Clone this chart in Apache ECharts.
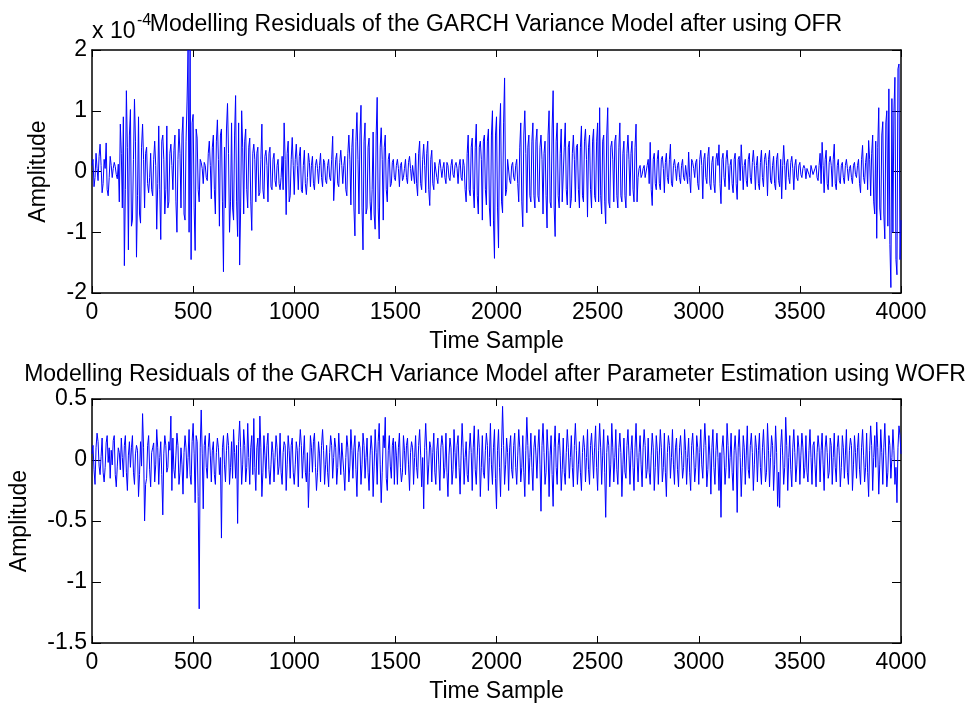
<!DOCTYPE html>
<html>
<head>
<meta charset="utf-8">
<title>GARCH Variance Model Residuals</title>
<script src="https://cdn.jsdelivr.net/npm/echarts@6/dist/echarts.min.js"></script>
<style>
  html, body { margin: 0; padding: 0; background: #fff; }
  #chart { width: 970px; height: 706px; }
</style>
</head>
<body>
<div id="chart"></div>
<script>
// Residuals are stored every SAMPLE_STEP time samples (20 values per 100 samples).
const SAMPLE_STEP = 5;

// Residuals after OFR, in units of 1e-4 (the axis carries the x 10^-4 multiplier).
const ofrResidualE4 = [
  0.1, 0.2, -0.25, -0.1, 0.3, 0.05, -0.15, 0.25, 0.45, 0.1, -0.35, -0.2, 0.2, 0.05, 0.47, -0.3, -0.4, -0.1, 0.25, 0.1,
  -0.1, 0.05, 0.15, 0.08, -0.05, -0.12, 0.12, -0.5, 0.78, 0.3, -0.6, 0.9, -1.55, -0.3, 1.33, 0.4, -1.29, 0.6, 1.02, -0.9,
  -0.8, 0.2, 1.19, 0.5, -1.41, -0.4, 0.9, -0.7, -0.85, 0.4, 0.78, 0.2, -0.6, 0.3, 0.4, -0.2, -0.35, -0.1, 0.3, -0.3,
  -0.4, 0.2, 0.5, 0.1, -0.95, -0.2, 0.75, -0.3, -1.12, 0.5, 0.6, 0.2, -0.7, -0.3, 0.75, -0.6, -0.5, 0.3, 0.45, 0.1,
  -0.3, 0.35, 0.6, -0.5, -1.0, 0.2, 0.7, 0.3, -0.6, 0.6, 0.9, -0.7, -0.8, 0.5, 1.16, 2.0, -1.0, 2.0, -1.45, 0.8,
  0.94, -0.6, -1.3, 0.7, 0.55, -0.3, -0.5, 0.2, 0.15, 0.05, -0.2, 0.15, 0.1, -0.1, -0.15, 0.3, 0.5, 0.1, -0.45, 0.4,
  0.6, -0.3, -0.7, 0.5, 0.85, 0.2, -0.9, 0.6, 0.7, -0.5, -1.65, 0.4, -0.6, 0.7, 1.12, 0.3, -1.0, -0.5, 0.8, -0.6,
  -0.8, 0.6, 1.25, -0.5, -1.07, 0.8, -1.54, -0.6, 1.0, 0.4, -0.7, 0.5, 0.7, -0.3, -0.6, 0.4, 0.55, -0.5, -0.97, 0.3,
  0.45, 0.2, -0.5, 0.3, 0.4, -0.4, -0.35, 0.2, 0.78, -0.3, -0.45, 0.25, 0.35, 0.1, -0.5, 0.3, 0.4, -0.25, -0.3, 0.2,
  0.3, -0.15, -0.25, 0.1, 0.2, -0.2, -0.3, -0.1, 0.25, -0.3, 0.8, 0.2, -0.71, 0.3, 0.5, -0.5, -0.4, 0.2, 0.56, 0.1,
  -0.38, 0.2, 0.45, 0.1, -0.3, 0.25, 0.4, -0.3, -0.35, 0.1, 0.35, -0.2, -0.38, -0.1, 0.3, 0.15, -0.25, 0.1, 0.25, -0.2,
  -0.3, 0.1, 0.2, 0.05, -0.2, 0.1, 0.3, -0.1, -0.25, 0.2, 0.15, -0.15, -0.2, 0.1, 0.2, -0.1, -0.15, 0.2, 0.58, -0.48,
  -0.5, 0.2, 0.3, -0.2, -0.25, 0.15, 0.35, 0.1, -0.2, 0.1, 0.25, -0.3, -0.4, 0.3, 0.6, 0.2, -0.55, 0.4, 0.7, -0.6,
  -1.06, 0.5, 0.97, 0.2, -0.7, 0.6, 1.09, -0.6, -1.29, 0.5, 0.8, -0.7, -0.6, 0.4, 0.55, -0.5, -0.8, -0.3, 0.65, -0.7,
  -0.95, 0.6, 1.22, -0.6, -1.11, 0.4, 0.72, 0.2, -0.8, 0.4, 0.6, -0.3, -0.5, 0.2, 0.3, -0.25, -0.2, 0.15, 0.2, -0.1,
  -0.15, 0.1, 0.2, 0.05, -0.25, 0.1, 0.15, -0.15, -0.1, 0.05, 0.2, -0.1, -0.2, 0.15, 0.25, 0.05, -0.15, 0.1, 0.1, -0.2,
  0.3, -0.2, -0.4, 0.3, 0.5, -0.2, -0.3, 0.2, 0.45, 0.1, -0.35, 0.3, 0.5, -0.3, -0.56, 0.2, 0.35, -0.2, -0.3, 0.15,
  0.15, -0.1, -0.2, 0.1, 0.2, 0.05, -0.1, 0.05, 0.15, -0.1, -0.2, 0.15, 0.1, -0.1, -0.15, 0.1, 0.2, -0.05, -0.1, 0.1,
  0.15, 0.05, -0.2, 0.1, 0.2, -0.1, -0.15, 0.2, 0.1, -0.3, -0.5, 0.3, 0.6, -0.3, -0.4, 0.4, 0.55, -0.3, -0.6, 0.4,
  0.78, -0.4, -0.7, 0.4, 0.5, 0.2, -0.8, 0.5, 0.6, -0.3, -0.55, 0.5, 0.7, -0.6, -0.9, 0.6, 1.0, -0.8, -1.43, 0.6,
  0.9, -0.6, -1.26, 0.7, 1.12, -0.5, -0.68, 0.8, 1.54, -0.4, -0.3, 0.2, 0.2, -0.15, -0.2, 0.1, 0.15, -0.1, -0.15, 0.1,
  0.2, -0.2, -0.5, 0.4, 0.8, -0.5, -0.91, 0.6, 1.0, 0.3, -0.68, 0.4, 0.6, -0.4, -0.5, 0.5, 0.8, -0.4, -0.6, 0.5,
  0.7, -0.4, -0.5, 0.4, 0.6, 0.2, -0.7, 0.3, 0.5, -0.4, -0.93, 0.6, 1.0, -0.5, -0.6, 0.7, 1.33, -0.6, -1.07, 0.5,
  0.8, -0.4, -0.6, 0.3, 0.7, -0.5, -0.5, 0.4, 0.8, -0.3, -0.55, 0.4, 0.5, -0.6, -0.45, 0.3, 0.6, 0.2, -0.5, 0.4,
  0.45, -0.3, -0.6, 0.4, 0.75, -0.4, -0.5, 0.5, 0.7, 0.2, -0.75, 0.4, 0.6, -0.3, -0.6, 0.5, 0.7, -0.4, -0.5, 0.5,
  0.8, -0.5, 1.05, -0.4, -0.7, 0.5, 0.6, -0.5, -0.86, 0.6, 1.05, -0.5, -0.6, 0.4, 0.5, 0.2, -0.5, 0.5, 0.6, -0.4,
  -0.6, 0.4, 0.8, -0.4, -0.5, 0.3, 0.5, -0.4, -0.6, 0.3, 0.6, 0.2, -0.4, 0.3, 0.5, -0.3, -0.5, 0.4, 0.78, -0.5,
  -0.1, 0.05, 0.1, -0.1, -0.05, 0.05, 0.1, -0.1, -0.1, 0.1, 0.2, -0.2, 0.48, -0.3, -0.56, 0.2, 0.3, -0.2, -0.3, 0.2,
  0.35, -0.2, -0.3, 0.2, 0.25, 0.05, -0.35, 0.15, 0.3, -0.1, -0.2, 0.2, 0.45, -0.2, -0.25, 0.1, 0.2, 0.05, -0.15, 0.1,
  0.15, -0.1, -0.2, 0.1, 0.2, -0.1, -0.15, 0.1, 0.1, -0.2, 0.32, -0.1, -0.35, 0.2, 0.15, 0.05, -0.1, 0.15, 0.2, -0.2,
  -0.3, 0.2, 0.35, 0.1, -0.45, 0.2, 0.3, -0.1, -0.2, 0.25, 0.4, -0.2, -0.3, 0.15, 0.25, -0.2, -0.35, 0.2, 0.3, 0.1,
  0.44, -0.2, -0.53, 0.2, 0.3, -0.1, -0.25, 0.2, 0.35, 0.1, -0.3, 0.1, 0.2, -0.2, -0.35, 0.2, 0.3, -0.2, -0.46, 0.2,
  0.25, -0.15, 0.44, 0.1, -0.3, 0.1, 0.2, -0.15, -0.25, 0.2, 0.3, -0.1, -0.2, 0.15, 0.35, 0.1, -0.3, 0.1, 0.25, -0.2,
  -0.3, 0.15, 0.35, -0.1, -0.25, 0.2, 0.3, 0.1, -0.4, 0.2, 0.35, -0.15, -0.2, 0.1, 0.25, -0.2, -0.3, 0.2, 0.3, -0.15,
  -0.25, 0.2, -0.45, 0.1, 0.43, 0.1, -0.3, 0.15, 0.2, -0.1, -0.2, 0.15, 0.25, 0.05, -0.3, 0.1, 0.2, -0.1, -0.15, 0.1,
  0.15, -0.05, -0.1, 0.05, 0.1, 0.05, -0.12, 0.05, 0.08, -0.05, -0.1, 0.1, 0.12, -0.05, -0.08, 0.05, 0.1, -0.1, -0.15, 0.1,
  0.3, -0.2, 0.48, 0.1, -0.35, 0.2, 0.35, -0.2, -0.3, 0.15, 0.25, 0.1, -0.25, 0.2, 0.45, -0.2, -0.3, 0.1, 0.2, -0.15,
  -0.2, 0.1, 0.15, -0.1, -0.2, 0.1, 0.2, 0.05, -0.15, 0.05, 0.1, -0.1, -0.2, 0.1, 0.15, -0.05, -0.1, 0.1, 0.2, -0.2,
  -0.35, 0.2, 0.43, -0.1, -0.2, 0.15, 0.3, -0.3, 0.51, 0.2, -0.4, 0.3, 0.6, -0.5, -0.7, 0.5, -1.1, 0.4, 1.05, -0.6,
  -0.8, 0.6, 0.82, -0.7, -1.11, 0.8, 1.0, -0.9, 1.36, -1.2, -1.91, 1.2, -1.0, 1.0, 1.55, -1.45, -1.7, 1.69, 1.77, -1.45,
  -0.8
];

// Residuals after parameter estimation with WOFR.
const wofrResidual = [
  0.05, 0.12, -0.08, -0.2, 0.1, 0.22, 0.15, -0.05, -0.12, 0.03, 0.18, -0.1, -0.18, -0.06, 0.14, 0.2, -0.02, 0.1, -0.15, 0.08,
  -0.04, 0.16, 0.2, -0.12, -0.22, -0.05, 0.1, 0.06, -0.08, 0.18, 0.02, -0.14, 0.12, 0.2, -0.1, -0.25, 0.04, 0.15, -0.06, 0.1,
  0.2, -0.1, -0.2, 0.05, 0.12, 0.08, -0.3, -0.12, 0.15, -0.05, 0.38, 0.1, -0.5, -0.2, -0.15, 0.12, 0.2, -0.08, -0.22, 0.06,
  0.1, 0.14, -0.18, -0.04, 0.25, 0.1, -0.2, 0.02, 0.15, -0.12, -0.45, 0.05, 0.2, 0.12, -0.1, -0.06, 0.15, 0.08, 0.36, -0.25,
  0.18, -0.08, -0.15, 0.04, 0.22, 0.12, -0.2, -0.1, 0.1, -0.04, -0.28, 0.06, 0.2, 0.1, -0.15, 0.02, 0.25, -0.12, -0.2, 0.15,
  0.3, 0.05, -0.35, 0.2, 0.15, -0.3, -1.22, 0.1, 0.41, 0.05, -0.4, 0.12, 0.2, -0.06, -0.15, 0.1, 0.22, 0.04, -0.18, 0.08,
  0.15, -0.12, -0.2, 0.06, 0.18, 0.1, -0.12, 0.02, -0.64, 0.1, 0.2, -0.04, -0.18, 0.08, 0.22, 0.12, -0.2, -0.06, 0.15, -0.15,
  0.25, 0.06, -0.15, 0.12, -0.52, 0.15, 0.32, 0.1, -0.2, -0.04, 0.25, 0.12, -0.18, -0.06, 0.3, 0.02, -0.2, 0.1, 0.2, -0.12,
  0.34, -0.06, -0.25, 0.1, 0.18, -0.12, 0.36, 0.1, -0.3, -0.1, 0.2, 0.04, -0.15, 0.12, 0.22, -0.08, -0.2, -0.04, 0.15, 0.06,
  -0.18, 0.02, 0.2, 0.1, -0.12, -0.05, 0.22, -0.1, -0.2, 0.06, 0.15, 0.12, -0.25, -0.04, 0.2, 0.08, -0.15, 0.12, 0.18, -0.1,
  -0.2, -0.04, 0.15, 0.08, -0.22, 0.1, 0.25, 0.12, -0.15, 0.04, 0.2, -0.1, -0.18, 0.06, -0.39, -0.1, 0.2, 0.1, -0.1, 0.15,
  0.22, -0.06, -0.25, -0.1, 0.15, 0.05, -0.18, 0.12, 0.25, 0.08, -0.2, -0.04, 0.12, -0.1, -0.22, 0.06, 0.2, 0.12, -0.15, 0.02,
  0.18, 0.1, -0.2, -0.06, 0.22, 0.04, -0.12, 0.14, 0.15, -0.1, -0.25, 0.02, 0.2, 0.1, -0.18, -0.05, 0.25, 0.08, -0.15, 0.1,
  0.2, -0.08, -0.3, 0.06, 0.15, 0.1, -0.2, -0.04, 0.22, 0.12, -0.15, 0.02, 0.18, -0.1, -0.25, 0.04, 0.2, 0.08, -0.3, -0.05,
  0.25, 0.06, -0.2, 0.15, 0.3, -0.04, -0.35, -0.1, 0.2, 0.1, 0.35, -0.15, -0.25, 0.08, 0.2, -0.05, -0.15, 0.12, 0.18, -0.2,
  0.15, 0.04, -0.2, 0.1, 0.22, -0.06, -0.18, -0.1, 0.2, 0.08, -0.12, 0.12, 0.18, -0.04, -0.25, 0.06, 0.15, 0.1, -0.2, 0.02,
  0.2, -0.06, -0.15, 0.12, 0.25, 0.04, -0.22, 0.02, -0.4, 0.1, 0.3, 0.08, -0.2, -0.04, 0.15, 0.1, -0.18, 0.06, 0.22, -0.1,
  -0.2, 0.08, 0.18, -0.04, -0.25, 0.1, 0.2, 0.12, -0.15, -0.06, 0.22, -0.1, -0.3, 0.04, 0.18, 0.1, -0.2, -0.08, 0.25, 0.06,
  -0.15, 0.12, 0.2, -0.06, -0.28, 0.04, 0.3, 0.1, -0.2, 0.02, 0.15, -0.12, -0.18, 0.08, 0.22, 0.06, -0.25, 0.1, 0.28, -0.08,
  -0.2, 0.04, 0.25, 0.1, -0.3, -0.06, 0.2, -0.1, -0.15, 0.08, 0.22, 0.12, -0.25, 0.02, 0.3, -0.04, -0.2, 0.1, 0.25, -0.15,
  -0.4, 0.08, 0.25, -0.06, -0.3, 0.1, 0.44, 0.12, -0.2, -0.04, 0.18, 0.06, -0.25, 0.1, 0.2, -0.08, -0.15, 0.12, 0.22, -0.06,
  -0.2, 0.04, 0.25, 0.1, -0.18, -0.06, 0.2, -0.1, -0.3, 0.08, 0.35, 0.12, -0.2, 0.02, 0.22, -0.06, -0.25, 0.1, 0.2, 0.04,
  -0.15, 0.1, 0.25, -0.04, -0.42, 0.12, 0.3, 0.06, -0.2, -0.1, 0.25, 0.08, -0.3, 0.04, 0.2, -0.12, -0.38, 0.1, 0.28, -0.06,
  -0.2, 0.12, 0.22, 0.04, -0.25, -0.08, 0.18, -0.1, -0.2, 0.06, 0.25, 0.1, -0.15, 0.02, 0.2, -0.06, -0.22, 0.12, 0.3, 0.08,
  -0.2, -0.04, 0.15, -0.1, -0.25, 0.06, 0.2, 0.1, -0.18, 0.02, 0.25, -0.08, -0.2, 0.12, 0.22, 0.04, -0.15, 0.1, 0.28, -0.06,
  -0.25, 0.08, 0.3, 0.1, -0.2, 0.04, 0.25, -0.1, -0.47, 0.06, 0.2, 0.12, -0.22, -0.04, 0.3, 0.1, -0.18, 0.02, 0.25, -0.08,
  -0.2, 0.1, 0.22, 0.06, -0.3, -0.04, 0.18, -0.1, -0.15, 0.12, 0.25, 0.04, -0.2, 0.08, 0.2, -0.06, -0.25, 0.1, 0.3, 0.02,
  -0.18, 0.06, 0.2, -0.04, -0.22, 0.1, 0.25, 0.12, -0.15, -0.08, 0.18, -0.1, -0.2, 0.04, 0.22, 0.1, -0.25, -0.06, 0.2, 0.08,
  -0.2, 0.04, 0.25, 0.1, -0.18, -0.06, 0.22, -0.1, -0.3, 0.06, 0.2, 0.12, -0.15, 0.02, 0.25, -0.04, -0.2, 0.1, 0.18, -0.08,
  -0.22, 0.1, 0.2, 0.04, -0.15, -0.06, 0.25, 0.08, -0.2, 0.02, 0.18, -0.1, -0.25, 0.12, 0.22, 0.04, -0.18, -0.06, 0.2, 0.1,
  -0.2, 0.06, 0.25, -0.04, -0.15, 0.1, 0.3, 0.12, -0.22, -0.08, 0.2, 0.04, -0.28, 0.1, 0.25, -0.06, -0.2, 0.08, 0.22, 0.02,
  -0.25, 0.06, -0.47, 0.1, 0.2, 0.04, -0.2, -0.06, 0.3, 0.12, -0.15, 0.02, 0.22, -0.1, -0.25, 0.08, 0.2, 0.04, -0.43, 0.1,
  0.25, 0.02, -0.3, -0.06, 0.2, 0.1, -0.2, 0.04, 0.28, -0.08, -0.15, 0.12, 0.22, 0.06, -0.25, -0.04, 0.2, 0.1, -0.18, 0.08,
  0.22, -0.06, -0.2, 0.1, 0.25, 0.04, -0.18, -0.1, 0.3, 0.08, -0.22, 0.02, 0.2, 0.12, -0.25, -0.04, 0.28, 0.06, -0.38, -0.1,
  -0.39, 0.1, 0.25, 0.04, -0.2, -0.06, 0.35, 0.12, -0.25, 0.02, 0.2, -0.08, -0.22, 0.1, 0.25, 0.06, -0.18, -0.04, 0.2, 0.1,
  -0.2, 0.04, 0.22, 0.1, -0.15, -0.06, 0.2, -0.1, -0.18, 0.08, 0.25, 0.02, -0.2, 0.12, 0.15, -0.04, -0.22, 0.06, 0.2, 0.1,
  -0.18, 0.08, 0.22, -0.04, -0.25, 0.1, 0.2, 0.06, -0.15, -0.1, 0.18, 0.12, -0.2, 0.02, 0.22, -0.06, -0.18, 0.1, 0.2, 0.04,
  -0.22, -0.06, 0.2, 0.1, -0.15, 0.04, 0.25, -0.1, -0.2, 0.08, 0.18, 0.12, -0.25, -0.04, 0.2, 0.06, -0.15, 0.1, 0.22, -0.08,
  -0.2, 0.1, 0.25, 0.04, -0.18, -0.06, 0.22, -0.1, -0.3, 0.08, 0.28, 0.12, -0.25, 0.02, 0.2, -0.06, 0.31, 0.1, -0.28, -0.04,
  0.25, 0.06, -0.2, 0.1, 0.3, 0.04, -0.22, -0.1, 0.2, 0.12, -0.15, 0.02, 0.25, 0.08, -0.2, -0.06, -0.35, 0.1, 0.28, 0.2,
  0.05
];

// Tick labels
const timeTicks = [0, 500, 1000, 1500, 2000, 2500, 3000, 3500, 4000];
const ofrTicks = [-2, -1, 0, 1, 2];
const wofrTicks = [-1.5, -1, -0.5, 0, 0.5];

const titles = [
  'Modelling Residuals of the GARCH Variance Model after using OFR',
  'Modelling Residuals of the GARCH Variance Model after Parameter Estimation using WOFR'
];

const FONT = '"Liberation Sans", Arial, Helvetica, sans-serif';
const FS = 23;
const BLACK = '#000';

const toPairs = arr => arr.map((v, i) => [i * SAMPLE_STEP, v]);
const plainNumber = v => String(v);

const grids = [
  { left: 92, top: 50, width: 809, height: 243 },
  { left: 92, top: 399, width: 809, height: 244 }
];

function xAxes(gridIndex, ticks) {
  const base = {
    gridIndex: gridIndex,
    type: 'value',
    min: ticks[0],
    max: ticks[ticks.length - 1],
    interval: ticks[1] - ticks[0],
    splitLine: { show: false },
    axisLine: { show: true, onZero: false, lineStyle: { color: BLACK, width: 1.5 } },
    axisTick: { show: true, inside: true, length: 7, lineStyle: { color: BLACK, width: 1 } }
  };
  return [
    Object.assign({}, base, {
      position: 'bottom',
      axisLabel: { show: true, color: BLACK, fontFamily: FONT, fontSize: FS, margin: 8, formatter: plainNumber },
      name: 'Time Sample',
      nameLocation: 'middle',
      nameGap: 37,
      nameTextStyle: { color: BLACK, fontFamily: FONT, fontSize: FS }
    }),
    Object.assign({}, base, {
      position: 'top',
      axisLabel: { show: false }
    })
  ];
}

function yAxes(gridIndex, ticks, nameGap) {
  const base = {
    gridIndex: gridIndex,
    type: 'value',
    min: ticks[0],
    max: ticks[ticks.length - 1],
    interval: ticks[1] - ticks[0],
    splitLine: { show: false },
    axisLine: { show: true, onZero: false, lineStyle: { color: BLACK, width: 1.5 } },
    axisTick: { show: true, inside: true, length: 9, lineStyle: { color: BLACK, width: 1 } }
  };
  return [
    Object.assign({}, base, {
      position: 'left',
      axisLabel: { show: true, color: BLACK, fontFamily: FONT, fontSize: FS, margin: 5, formatter: plainNumber },
      name: 'Amplitude',
      nameLocation: 'middle',
      nameRotate: 90,
      nameGap: nameGap,
      nameTextStyle: { color: BLACK, fontFamily: FONT, fontSize: FS }
    }),
    Object.assign({}, base, {
      position: 'right',
      axisLabel: { show: false }
    })
  ];
}

const lineSeries = (xi, yi, data) => ({
  type: 'line',
  xAxisIndex: xi,
  yAxisIndex: yi,
  data: data,
  showSymbol: false,
  symbol: 'none',
  sampling: null,
  clip: true,
  silent: true,
  lineStyle: { color: '#0000ff', width: 1 }
});

const chart = echarts.init(document.getElementById('chart'), null, { renderer: 'canvas' });

chart.setOption({
  animation: false,
  backgroundColor: '#fff',
  grid: grids,
  xAxis: [].concat(xAxes(0, timeTicks), xAxes(1, timeTicks)),
  yAxis: [].concat(yAxes(0, ofrTicks, 42), yAxes(1, wofrTicks, 61)),
  series: [
    lineSeries(0, 0, toPairs(ofrResidualE4)),
    lineSeries(2, 2, toPairs(wofrResidual))
  ],
  graphic: [
    {
      type: 'text', x: 92, y: 32,
      style: { text: 'x 10', fill: BLACK, font: FS + 'px ' + FONT, verticalAlign: 'middle', align: 'left' }
    },
    {
      type: 'text', x: 137, y: 21,
      style: { text: '-4', fill: BLACK, font: '16px ' + FONT, verticalAlign: 'middle', align: 'left' }
    },
    {
      type: 'text', x: 496, y: 25,
      style: { text: titles[0], fill: BLACK, font: FS + 'px ' + FONT, verticalAlign: 'middle', align: 'center' }
    },
    {
      type: 'text', x: 495, y: 375,
      style: { text: titles[1], fill: BLACK, font: FS + 'px ' + FONT, verticalAlign: 'middle', align: 'center' }
    }
  ]
});
</script>
</body>
</html>
